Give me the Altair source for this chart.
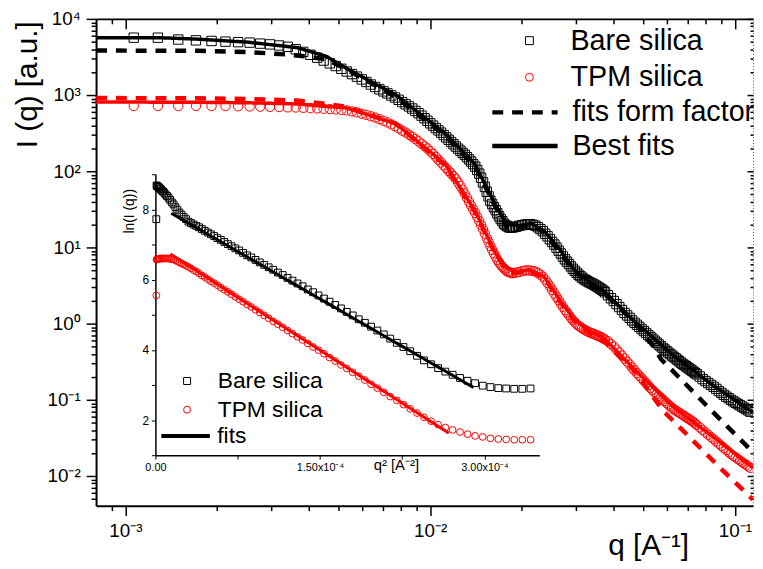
import altair as alt
import pandas as pd

FONT = "Liberation Sans"
W, H = 664, 492
X_DOMAIN = [8.01e-4, 0.1147]
Y_DOMAIN = [4.076e-3, 1.0e4]
SERIES = ["Bare silica", "TPM silica"]

# ---------------- main panel: I(q) vs q ----------------
q_main = [
    0.001065, 0.001278, 0.001491, 0.001704, 0.001917, 0.00213, 0.002343, 0.002556, 0.002769, 0.002982,
    0.003195, 0.003408, 0.003621, 0.003834, 0.004047, 0.00426, 0.004473, 0.004686, 0.004899, 0.005112,
    0.005325, 0.005538, 0.005751, 0.005964, 0.006177, 0.00639, 0.006603, 0.006816, 0.007029, 0.007242,
    0.007455, 0.007668, 0.007881, 0.008094, 0.008307, 0.00852, 0.008733, 0.008946, 0.009159, 0.009372,
    0.009585, 0.009798, 0.010011, 0.010224, 0.010437, 0.01065, 0.010863, 0.011076, 0.011289, 0.011502,
    0.011715, 0.011928, 0.012141, 0.012354, 0.012567, 0.01278, 0.012993, 0.013206, 0.013419, 0.013632,
    0.013845, 0.014058, 0.014271, 0.014484, 0.014697, 0.01491, 0.015123, 0.015336, 0.015549, 0.015762,
    0.015975, 0.016188, 0.016401, 0.016614, 0.016827, 0.01704, 0.017253, 0.017466, 0.017679, 0.017892,
    0.018105, 0.018318, 0.018531, 0.018744,
    0.01917, 0.019596, 0.020022, 0.020448, 0.020874, 0.0213, 0.021726, 0.022152, 0.022578, 0.023004,
    0.02343, 0.023856, 0.024282, 0.024708, 0.025134, 0.02556, 0.025986, 0.026412, 0.026838, 0.027264,
    0.02769, 0.028116, 0.028542, 0.028968, 0.029394, 0.02982, 0.030246, 0.030672, 0.031098, 0.031524,
    0.03195, 0.032376, 0.032802, 0.033228, 0.033654, 0.03408, 0.034506, 0.034932, 0.035358, 0.035784,
    0.03621, 0.036636, 0.037062, 0.037488,
    0.03834, 0.039192, 0.040044, 0.040896, 0.041748, 0.0426, 0.043452, 0.044304, 0.045156, 0.046008,
    0.04686, 0.047712, 0.048564, 0.049416, 0.050268, 0.05112, 0.051972, 0.052824, 0.053676, 0.054528,
    0.05538, 0.056232, 0.057084, 0.057936, 0.058788, 0.05964, 0.060492, 0.061344, 0.062196, 0.063048,
    0.0639, 0.064752, 0.065604, 0.066456, 0.067308, 0.06816, 0.069012, 0.069864, 0.070716, 0.071568,
    0.07242, 0.073272, 0.074124, 0.074976,
    0.07668, 0.078384, 0.080088, 0.081792, 0.083496, 0.0852, 0.086904, 0.088608, 0.090312, 0.092016,
    0.09372, 0.095424, 0.097128, 0.098832, 0.100536, 0.10224, 0.103944, 0.105648, 0.107352, 0.109056,
    0.11076, 0.112464]
I_bare = [
    5665, 5665, 5354, 5227, 5133, 5027, 4952, 4879, 4735, 4623,
    4473, 4302, 3994, 3684, 3378, 3094, 2837, 2608, 2406, 2213,
    2038, 1885, 1746, 1606, 1486, 1375, 1277, 1189, 1118, 1052,
    988, 929, 867, 809, 757, 709, 666, 619, 578, 537,
    496, 460, 426, 397, 369, 344, 321, 298, 278, 259,
    242, 226, 211, 198, 186, 174, 164, 153, 143, 134,
    124, 115, 104, 93.1, 82.1, 71.5, 62.3, 53.8, 46.8, 41.1,
    37.2, 33.8, 30.8, 28.0, 25.6, 23.6, 22.1, 20.5, 19.6, 19.0,
    18.5, 18.2, 18.3, 18.4,
    18.7, 19.2, 19.6, 19.9, 20.1, 20.2, 19.8, 19.3, 18.4, 17.4,
    16.35, 15.1, 14.0, 12.8, 11.8, 10.9, 9.94, 9.06, 8.31, 7.59,
    6.98, 6.50, 6.05, 5.63, 5.24, 4.92, 4.65, 4.39, 4.20, 4.01,
    3.85, 3.72, 3.60, 3.50, 3.41, 3.34, 3.25, 3.15, 3.06, 2.97,
    2.87, 2.79, 2.69, 2.58,
    2.36, 2.15, 1.98, 1.80, 1.65, 1.51, 1.38, 1.28, 1.19, 1.10,
    1.025, 0.965, 0.906, 0.848, 0.799, 0.753, 0.709, 0.668, 0.631, 0.596,
    0.563, 0.533, 0.505, 0.480, 0.457, 0.437, 0.417, 0.398, 0.381, 0.365,
    0.350, 0.336, 0.321, 0.308, 0.296, 0.286, 0.276, 0.266, 0.258, 0.249,
    0.241, 0.232, 0.224, 0.216,
    0.202, 0.187, 0.176, 0.166, 0.157, 0.148, 0.139, 0.130, 0.123, 0.116,
    0.110, 0.105, 0.0997, 0.0953, 0.0914, 0.0879, 0.0846, 0.0814, 0.0782, 0.0753,
    0.0726, 0.0698]
I_tpm = [
    720, 720, 720, 720, 720, 720, 713, 709, 705, 701,
    697, 690, 686, 680, 674, 668, 661, 654, 648, 639,
    628, 611, 593, 570, 549, 527, 507, 483, 459, 437,
    412, 389, 366, 342, 323, 302, 284, 264, 247, 229,
    213, 199, 183, 169, 155, 141, 130, 119, 110, 101,
    93.4, 86.4, 79.2, 71.1, 63.8, 57.2, 50.7, 44.9, 39.8, 35.4,
    31.5, 28.3, 25.1, 22.3, 19.7, 17.4, 15.2, 13.3, 11.8, 10.4,
    9.31, 8.36, 7.55, 6.84, 6.36, 5.93, 5.58, 5.31, 5.05, 4.84,
    4.77, 4.68, 4.59, 4.62,
    4.66, 4.77, 4.89, 4.95, 5.02, 4.96, 4.91, 4.80, 4.63, 4.40,
    4.13, 3.80, 3.42, 3.08, 2.77, 2.49, 2.24, 2.03, 1.83, 1.66,
    1.51, 1.40, 1.29, 1.19, 1.11, 1.04, 0.982, 0.939, 0.903, 0.871,
    0.838, 0.815, 0.793, 0.773, 0.757, 0.741, 0.728, 0.713, 0.698, 0.684,
    0.670, 0.654, 0.635, 0.618,
    0.586, 0.538, 0.501, 0.455, 0.416, 0.381, 0.348, 0.317, 0.290, 0.265,
    0.243, 0.224, 0.208, 0.192, 0.178, 0.166, 0.154, 0.143, 0.134, 0.125,
    0.119, 0.1125, 0.107, 0.1013, 0.0960, 0.0912, 0.0866, 0.0823, 0.0785, 0.0751,
    0.0726, 0.0700, 0.0678, 0.0656, 0.0635, 0.0614, 0.0594, 0.0575, 0.0558, 0.0540,
    0.0524, 0.0505, 0.0486, 0.0468,
    0.0433, 0.0401, 0.0372, 0.0348, 0.0325, 0.0303, 0.0283, 0.0265, 0.0248, 0.0233,
    0.0219, 0.0205, 0.0194, 0.0183, 0.0175, 0.0167, 0.0159, 0.0152, 0.0145, 0.0140,
    0.0133, 0.0128]

# best fits (solid)
q_fit_bare = [8.014e-4, 1.283e-3, 1.731e-3, 2.516e-3, 3.656e-3, 4.575e-3, 5.313e-3, 7.72e-3, 1.122e-2,
              1.404e-2, 1.631e-2, 1.784e-2, 1.966e-2, 2.150e-2, 2.370e-2, 2.651e-2, 2.966e-2, 3.318e-2,
              3.711e-2, 4.645e-2, 6.264e-2, 8.445e-2, 0.1147]
I_fit_bare = [5665, 5665, 5418, 4952, 4202, 3210, 2242, 1000, 311.5, 123.3, 37.2, 20.0, 19.4, 20.6, 16.3,
              9.70, 5.10, 3.55, 2.70, 1.10, 0.384, 0.1566, 0.068]
q_fit_tpm = [8.014e-4, 1.731e-3, 2.516e-3, 3.656e-3, 4.575e-3, 5.313e-3, 7.72e-3, 1.122e-2, 1.404e-2,
             1.631e-2, 1.757e-2, 1.894e-2, 2.118e-2, 2.370e-2, 2.651e-2, 2.966e-2, 3.318e-2, 3.711e-2,
             4.645e-2, 6.264e-2, 8.445e-2, 0.1147]
I_fit_tpm = [811, 804, 792, 764, 709, 678, 420, 123.3, 30.2, 8.6, 5.6, 4.75, 5.1, 4.1, 2.1, 1.15,
             0.80, 0.65, 0.260, 0.0811, 0.0331, 0.0128]
# form factor fits (dashed)
q_ff_bare = [8.014e-4, 1.731e-3, 2.516e-3, 3.392e-3, 3.939e-3, 4.575e-3, 5.313e-3, 7.72e-3, 1.122e-2,
             1.404e-2, 1.631e-2, 1.784e-2, 1.966e-2, 2.150e-2, 2.370e-2, 2.651e-2, 2.966e-2, 3.318e-2,
             3.711e-2, 4.645e-2, 5.393e-2, 5.725e-2, 6.264e-2, 8.445e-2, 0.1147]
I_ff_bare = [3841, 3807, 3672, 3408, 3210, 2934, 2176, 942, 293, 116.1, 35.0, 18.4, 18.4, 20.0, 15.8,
             9.0, 4.9, 3.35, 2.55, 1.08, 0.51, 0.341, 0.238, 0.0699, 0.0205]
q_ff_tpm = [8.014e-4, 1.731e-3, 2.516e-3, 3.656e-3, 4.575e-3, 5.313e-3, 7.72e-3, 1.122e-2, 1.404e-2,
            1.631e-2, 1.757e-2, 1.894e-2, 2.118e-2, 2.370e-2, 2.651e-2, 2.966e-2, 3.318e-2, 3.711e-2,
            4.645e-2, 5.813e-2, 7.273e-2, 9.101e-2, 0.1147]
I_ff_tpm = [914, 906, 887, 848, 764, 699, 420, 119.6, 29.3, 8.4, 5.5, 4.6, 5.0, 4.0, 2.0, 1.10,
            0.76, 0.60, 0.25, 0.0720, 0.0293, 0.01196, 0.00488]

# ---------------- inset: ln(I) vs q^2 (q^2 in units of 1e-4 A^-2) ----------------
q2_inset = [0.008, 0.0103, 0.0149, 0.0202, 0.0264, 0.0335, 0.0413, 0.0500, 0.0595, 0.0698, 0.0809,
            0.0929, 0.1057, 0.1194, 0.1338, 0.1491, 0.1652, 0.1821, 0.1999, 0.2185, 0.2379,
            0.2581, 0.2792, 0.3011, 0.3238, 0.3473, 0.3717, 0.3969, 0.4229, 0.4498, 0.4774,
            0.5059, 0.5352, 0.5654, 0.5964, 0.6282, 0.6608, 0.6943, 0.7285, 0.7637, 0.7996,
            0.8363, 0.8739, 0.9123, 0.9516, 0.9916, 1.0325, 1.0742, 1.1168, 1.1601, 1.2043,
            1.2493, 1.2952, 1.3418, 1.3893, 1.4377, 1.4868, 1.5368, 1.5876, 1.6392, 1.6916,
            1.7449, 1.7990, 1.8540, 1.9097, 1.9663, 2.0237, 2.0819, 2.1410, 2.2009, 2.2616,
            2.3231, 2.3855, 2.4487, 2.5127, 2.5775, 2.6432, 2.7097, 2.7770, 2.8451, 2.9141,
            2.9839, 3.0545, 3.1260, 3.1983, 3.2714, 3.3453, 3.4200]
ln_bare = [7.72,
           8.68, 8.67, 8.65, 8.64, 8.62, 8.59, 8.57, 8.53, 8.51, 8.47, 8.42, 8.38, 8.33, 8.27, 8.20,
           8.14, 8.06, 7.99, 7.91, 7.85, 7.78, 7.72,
           7.65, 7.61, 7.57, 7.53, 7.49, 7.44, 7.39, 7.34, 7.29, 7.24, 7.18, 7.13, 7.07, 7.01,
           6.95, 6.89, 6.83, 6.76, 6.69, 6.63, 6.56, 6.49, 6.42, 6.35, 6.28, 6.20, 6.13, 6.05,
           5.97, 5.89, 5.81, 5.72, 5.64, 5.55, 5.46, 5.37, 5.28, 5.18, 5.08, 4.98, 4.87, 4.77,
           4.66, 4.55, 4.44, 4.32, 4.20, 4.08, 3.96, 3.83, 3.70, 3.59, 3.48, 3.38, 3.29, 3.20,
           3.12, 3.05, 2.98, 2.94, 2.91, 2.90, 2.89, 2.89, 2.90]
ln_tpm = [5.55,
          6.57, 6.58, 6.58, 6.59, 6.59, 6.60, 6.60, 6.60, 6.60, 6.60, 6.60, 6.60, 6.60, 6.59, 6.58,
          6.57, 6.55, 6.52, 6.49, 6.46, 6.43, 6.40,
          6.36, 6.32, 6.27, 6.23, 6.18, 6.12, 6.07, 6.01, 5.95, 5.90, 5.84, 5.77, 5.71, 5.65,
          5.58, 5.51, 5.44, 5.37, 5.29, 5.22, 5.14, 5.06, 4.98, 4.90, 4.81, 4.73, 4.64, 4.55,
          4.46, 4.37, 4.28, 4.18, 4.08, 3.99, 3.89, 3.78, 3.68, 3.57, 3.47, 3.36, 3.25, 3.14,
          3.02, 2.91, 2.79, 2.67, 2.56, 2.44, 2.32, 2.20, 2.08, 1.97, 1.87, 1.79,
          1.72, 1.66, 1.60, 1.55, 1.52, 1.48, 1.46, 1.45, 1.44, 1.44, 1.44]
fit_q2_bare = [0.1446, 2.900]
fit_ln_bare = [7.89, 2.93]
fit_q2_tpm = [0.1355, 2.675]
fit_ln_tpm = [6.73, 1.63]

# ---------------- ticks ----------------
x_major = [1e-3, 1e-2, 1e-1]
x_minor = [9e-4, 2e-3, 3e-3, 4e-3, 5e-3, 6e-3, 7e-3, 8e-3, 9e-3,
           2e-2, 3e-2, 4e-2, 5e-2, 6e-2, 7e-2, 8e-2, 9e-2]
y_major = [1e-2, 1e-1, 1, 10, 100, 1000, 10000]
y_minor = [5e-3, 6e-3, 7e-3, 8e-3, 9e-3,
           2e-2, 3e-2, 4e-2, 5e-2, 6e-2, 7e-2, 8e-2, 9e-2,
           0.2, 0.3, 0.4, 0.5, 0.6, 0.7, 0.8, 0.9,
           2, 3, 4, 5, 6, 7, 8, 9,
           20, 30, 40, 50, 60, 70, 80, 90,
           200, 300, 400, 500, 600, 700, 800, 900,
           2000, 3000, 4000, 5000, 6000, 7000, 8000, 9000]
inset_x_ticks = [0.0, 0.75e-4, 1.5e-4, 2.25e-4, 3.0e-4]
inset_y_ticks = [1, 2, 3, 4, 5, 6, 7, 8, 9]

# ---------------- frames ----------------
main_df = pd.concat([pd.DataFrame({"q": q_main, "I": I_bare, "series": SERIES[0]}),
                     pd.DataFrame({"q": q_main, "I": I_tpm, "series": SERIES[1]})])
ff_bare_df = pd.DataFrame({"q": q_ff_bare, "I": I_ff_bare, "kind": "fits form factor"})
ff_tpm_df = pd.DataFrame({"q": q_ff_tpm, "I": I_ff_tpm, "kind": "fits form factor"})
best_bare_df = pd.DataFrame({"q": q_fit_bare, "I": I_fit_bare, "kind": "Best fits"})
best_tpm_df = pd.DataFrame({"q": q_fit_tpm, "I": I_fit_tpm, "kind": "Best fits"})
frame_df = pd.DataFrame({"q": X_DOMAIN, "I": Y_DOMAIN})

q2_vals = [v * 1e-4 for v in q2_inset]
inset_df = pd.concat([pd.DataFrame({"q2": q2_vals, "ln": ln_bare, "series": SERIES[0]}),
                      pd.DataFrame({"q2": q2_vals, "ln": ln_tpm, "series": SERIES[1]})])
ifit_bare_df = pd.DataFrame({"q2": [v * 1e-4 for v in fit_q2_bare], "ln": fit_ln_bare, "kind": "fits"})
ifit_tpm_df = pd.DataFrame({"q2": [v * 1e-4 for v in fit_q2_tpm], "ln": fit_ln_tpm, "kind": "fits"})

# ---------------- scales / axes ----------------
xs = alt.Scale(type="log", domain=X_DOMAIN, nice=False)
ys = alt.Scale(type="log", domain=Y_DOMAIN, nice=False)

x_lab = "datum.value < 0.005 ? '10⁻³' : (datum.value < 0.05 ? '10⁻²' : '10⁻¹')"
y_lab = ("datum.value > 5000 ? '10⁴' : datum.value > 500 ? '10³' : datum.value > 50 ? '10²' : "
         "datum.value > 5 ? '10¹' : datum.value > 0.5 ? '10⁰' : datum.value > 0.05 ? '10⁻¹' : '10⁻²'")

x_axis = alt.Axis(orient="bottom", values=x_major, tickSize=10, tickWidth=1.5, domainWidth=2,
                  labelExpr=x_lab, labelFontSize=19, labelPadding=6, labelFont=FONT,
                  labelFlush=False, labelOverlap=False, grid=False,
                  title="q [A⁻¹]", titleFont=FONT, titleFontSize=30, titleFontWeight="normal",
                  titleX=558, titleY=40, titleAlign="center", titleBaseline="middle")
y_axis = alt.Axis(orient="left", values=y_major, tickSize=10, tickWidth=1.5, domainWidth=2,
                  labelExpr=y_lab, labelFontSize=19, labelPadding=6, labelFont=FONT,
                  labelFlush=False, labelOverlap=False, grid=False,
                  title="I (q) [a.u.]", titleFont=FONT, titleFontSize=30, titleFontWeight="normal",
                  titleX=-69, titleY=66, titleAngle=270, titleAlign="center", titleBaseline="middle")

X = alt.X("q:Q", scale=xs, axis=x_axis)
Y = alt.Y("I:Q", scale=ys, axis=y_axis)


def dash_legend(y):
    return alt.Legend(title=None, orient="none", legendX=398, legendY=y, symbolType="stroke",
                      symbolSize=4356, symbolStrokeWidth=4.5, symbolStrokeColor="black",
                      labelFontSize=29, labelFont=FONT, labelOffset=12.5, labelLimit=400, padding=0)


ff_dash = alt.StrokeDash("kind:N", scale=alt.Scale(domain=["fits form factor"], range=[[11, 9]]),
                         legend=dash_legend(59))
best_dash = alt.StrokeDash("kind:N", scale=alt.Scale(domain=["Best fits"], range=[[1, 0]]),
                           legend=dash_legend(93))


def line(df, color, width, dash):
    return alt.Chart(df).mark_line(strokeWidth=width, clip=True).encode(
        x=X, y=Y, stroke=alt.value(color), strokeDash=dash)


ff_group = alt.layer(line(ff_bare_df, "black", 4.5, ff_dash), line(ff_tpm_df, "red", 4.5, ff_dash))
best_group = alt.layer(line(best_bare_df, "black", 3.5, best_dash), line(best_tpm_df, "red", 3.5, best_dash))

marker_legend = alt.Legend(title=None, orient="none", legendX=423.5, legendY=7.5, symbolSize=64,
                           symbolStrokeWidth=1, labelFontSize=29, labelFont=FONT, labelOffset=27,
                           rowPadding=7, padding=0, labelLimit=400)
marker_layer = alt.Chart(main_df).mark_point(filled=False, size=90, strokeWidth=1, opacity=1,
                                             clip=True).encode(
    x=X, y=Y,
    shape=alt.Shape("series:N", scale=alt.Scale(domain=SERIES, range=["square", "circle"]),
                    legend=marker_legend),
    color=alt.Color("series:N", scale=alt.Scale(domain=SERIES, range=["black", "red"]),
                    legend=marker_legend))

main = alt.layer(ff_group, marker_layer, best_group).resolve_scale(strokeDash="independent")


def frame_layer(xvals, yvals, xsize, ysize, mirror, show_domain):
    xa = dict(orient="bottom", values=xvals, tickSize=xsize, tickWidth=1.5, labels=False,
              domain=show_domain, domainWidth=2, grid=False, title=None)
    ya = dict(orient="left", values=yvals, tickSize=ysize, tickWidth=1.5, labels=False,
              domain=show_domain, domainWidth=1, grid=False, title=None)
    if mirror:
        xa["offset"] = -H
        ya["offset"] = -W
        ya["domainDash"] = [1, 2]
        ya["domainColor"] = "#555555"
    return alt.Chart(frame_df).mark_point(opacity=0).encode(
        x=alt.X("q:Q", scale=xs, axis=alt.Axis(**xa)),
        y=alt.Y("I:Q", scale=ys, axis=alt.Axis(**ya)))


minor_bl = frame_layer(x_minor, y_minor, 5, 5, False, False)
major_tr = frame_layer(x_major, y_major, 10, 6, True, True)
minor_tr = frame_layer(x_minor, y_minor, 5, 3, True, False)

# ---------------- inset ----------------
ix_scale = alt.Scale(domain=[0, 3.5e-4], range=[60, 448], nice=False, zero=False)
iy_scale = alt.Scale(domain=[1, 9], range=[441, 157], nice=False, zero=False)
ix_lab = ("datum.value < 1e-6 ? '0.00' : (abs(datum.value - 1.5e-4) < 1e-6 ? '1.50x10⁻⁴' : "
          "(abs(datum.value - 3e-4) < 1e-6 ? '3.00x10⁻⁴' : ''))")
ix_axis = alt.Axis(orient="bottom", offset=-51, values=inset_x_ticks, tickSize=4, tickWidth=1,
                   domainWidth=1.5, labelExpr=ix_lab, labelFontSize=11, labelFont=FONT, labelPadding=2,
                   labelFlush=False, labelOverlap=False, grid=False,
                   title="q² [A⁻²]", titleFont=FONT, titleFontSize=15, titleFontWeight="normal",
                   titleX=303, titleY=9, titleAlign="center", titleBaseline="middle")
iy_axis = alt.Axis(orient="left", offset=-60, values=inset_y_ticks, tickSize=4, tickWidth=1,
                   domainWidth=1.5, labelExpr="datum.value % 2 == 0 ? format(datum.value, 'd') : ''",
                   labelFontSize=12, labelFont=FONT, labelPadding=3, labelFlush=False,
                   labelOverlap=False, grid=False,
                   title="ln(I (q))", titleFont=FONT, titleFontSize=14, titleFontWeight="normal",
                   titleX=-26, titleY=194, titleAngle=270, titleAlign="center", titleBaseline="middle")
IX = alt.X("q2:Q", scale=ix_scale, axis=ix_axis)
IY = alt.Y("ln:Q", scale=iy_scale, axis=iy_axis)

inset_marker_legend = alt.Legend(title=None, orient="none", legendX=80.5, legendY=354.5, symbolSize=50,
                                 symbolStrokeWidth=1, labelFontSize=23, labelFont=FONT, labelOffset=19.5,
                                 rowPadding=5, padding=0, labelLimit=300)
inset_points = alt.Chart(inset_df).mark_point(filled=False, size=47, strokeWidth=1, opacity=1).encode(
    x=IX, y=IY,
    shape=alt.Shape("series:N", scale=alt.Scale(domain=SERIES, range=["square", "circle"]),
                    legend=inset_marker_legend),
    color=alt.Color("series:N", scale=alt.Scale(domain=SERIES, range=["black", "red"]),
                    legend=inset_marker_legend))
fits_legend = alt.Legend(title=None, orient="none", legendX=64, legendY=395, symbolType="stroke",
                         symbolSize=2401, symbolStrokeWidth=4, symbolStrokeColor="black",
                         labelFontSize=23, labelFont=FONT, labelOffset=5.5, padding=0)
fits_dash = alt.StrokeDash("kind:N", scale=alt.Scale(domain=["fits"], range=[[1, 0]]), legend=fits_legend)
inset_lines = alt.layer(
    alt.Chart(ifit_bare_df).mark_line(strokeWidth=3).encode(x=IX, y=IY, stroke=alt.value("black"),
                                                           strokeDash=fits_dash),
    alt.Chart(ifit_tpm_df).mark_line(strokeWidth=3).encode(x=IX, y=IY, stroke=alt.value("red"),
                                                          strokeDash=fits_dash))
inset = alt.layer(inset_points, inset_lines)

chart = alt.layer(main, minor_bl, major_tr, minor_tr, inset).resolve_scale(
    x="independent", y="independent", color="independent", shape="independent",
    strokeDash="independent"
).properties(
    width=W, height=H,
    autosize=alt.AutoSizeParams(type="none"),
    padding={"left": 89, "top": 8, "right": 2, "bottom": 60},
    background="white",
).configure_view(stroke=None).configure_axis(
    domainColor="black", tickColor="black", labelColor="black", titleColor="black"
).configure_legend(labelColor="black")

chart.save("out.html", embed_options={"renderer": "svg", "actions": False})
